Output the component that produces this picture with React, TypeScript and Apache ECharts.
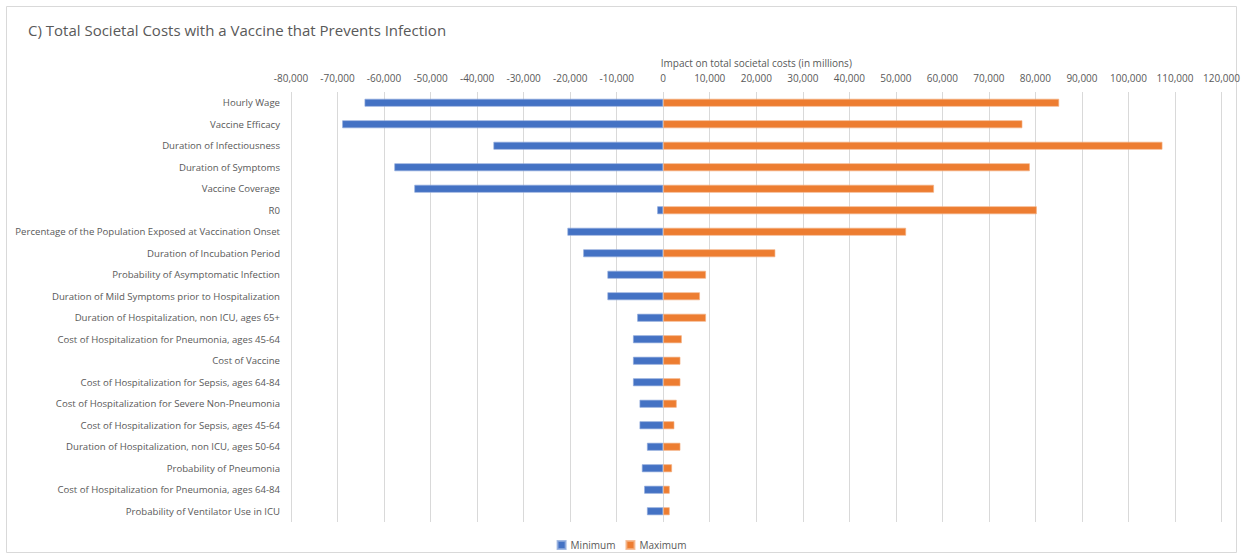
import React, { useEffect, useRef } from "react";
import * as echarts from "echarts";

// Tornado chart: one-way sensitivity of total societal costs (in millions)
const categories = [
  "Hourly Wage",
  "Vaccine Efficacy",
  "Duration of Infectiousness",
  "Duration of Symptoms",
  "Vaccine Coverage",
  "R0",
  "Percentage of the Population Exposed at Vaccination Onset",
  "Duration of Incubation Period",
  "Probability of Asymptomatic Infection",
  "Duration of Mild Symptoms prior to Hospitalization",
  "Duration of Hospitalization, non ICU, ages 65+",
  "Cost of Hospitalization for Pneumonia, ages 45-64",
  "Cost of Vaccine",
  "Cost of Hospitalization for Sepsis, ages 64-84",
  "Cost of Hospitalization for Severe Non-Pneumonia",
  "Cost of Hospitalization for Sepsis, ages 45-64",
  "Duration of Hospitalization, non ICU, ages 50-64",
  "Probability of Pneumonia",
  "Cost of Hospitalization for Pneumonia, ages 64-84",
  "Probability of Ventilator Use in ICU",
];

const minimumValues = [
  -64200, -69000, -36500, -57800, -53500, -1300, -20600, -17200, -12000, -12000,
  -5600, -6500, -6500, -6500, -5100, -5100, -3500, -4600, -4100, -3500,
];

const maximumValues = [
  85100, 77200, 107300, 78800, 58200, 80300, 52200, 24100, 9200, 7900,
  9200, 4000, 3700, 3700, 2900, 2400, 3700, 1900, 1400, 1400,
];

const axisMin = -80000;
const axisMax = 120000;
const axisStep = 10000;

const textColor = "#595959";
const fontFamily = "'Open Sans', 'Noto Sans', sans-serif";

export default function App() {
  const ref = useRef<HTMLDivElement>(null);

  useEffect(() => {
    document.body.style.margin = "0";
    if (!ref.current) return;
    const chart = echarts.init(ref.current, null, { renderer: "svg" });
    chart.setOption({
      animation: false,
      textStyle: { fontFamily },
      title: {
        text: "C) Total Societal Costs with a Vaccine that Prevents Infection",
        left: 23,
        top: 17,
        textStyle: {
          fontSize: 15,
          fontWeight: "normal",
          color: textColor,
          fontFamily,
        },
      },
      graphic: [
        {
          type: "rect",
          shape: { x: 6.5, y: 6.5, width: 1230, height: 546 },
          style: { fill: "none", stroke: "#d9d9d9", lineWidth: 1 },
          silent: true,
          z: -1,
        },
      ],
      legend: {
        bottom: 4,
        left: "center",
        itemWidth: 8,
        itemHeight: 8,
        itemGap: 10,
        icon: "rect",
        textStyle: { fontSize: 10, color: textColor, fontFamily },
        data: ["Minimum", "Maximum"],
      },
      grid: {
        left: 291,
        right: 21,
        top: 92,
        bottom: 37,
        containLabel: false,
      },
      xAxis: {
        type: "value",
        position: "top",
        min: axisMin,
        max: axisMax,
        interval: axisStep,
        name: "Impact on total societal costs (in millions)",
        nameLocation: "middle",
        nameGap: 24,
        nameTextStyle: { fontSize: 10, color: textColor, fontFamily },
        axisLine: { show: false },
        axisTick: { show: false },
        axisLabel: {
          fontSize: 10,
          color: textColor,
          margin: 9,
          formatter: (v: number) => v.toLocaleString("en-US"),
        },
        splitLine: { show: true, lineStyle: { color: "#d9d9d9", width: 1 } },
      },
      yAxis: {
        type: "category",
        inverse: true,
        data: categories,
        axisLine: { show: false },
        axisTick: { show: false },
        axisLabel: { fontSize: 9.6, color: textColor, margin: 11, fontFamily },
      },
      series: [
        {
          name: "Minimum",
          type: "bar",
          stack: "impact",
          data: minimumValues,
          barWidth: 8,
          itemStyle: {
            color: "#4472C4",
            borderColor: "rgba(143,170,220,0.8)",
            borderWidth: 0.8,
          },
        },
        {
          name: "Maximum",
          type: "bar",
          stack: "impact",
          data: maximumValues,
          barWidth: 8,
          itemStyle: {
            color: "#ED7D31",
            borderColor: "rgba(244,177,131,0.8)",
            borderWidth: 0.8,
          },
        },
      ],
    });
    return () => chart.dispose();
  }, []);

  return <div ref={ref} style={{ width: 1243, height: 559 }} />;
}
